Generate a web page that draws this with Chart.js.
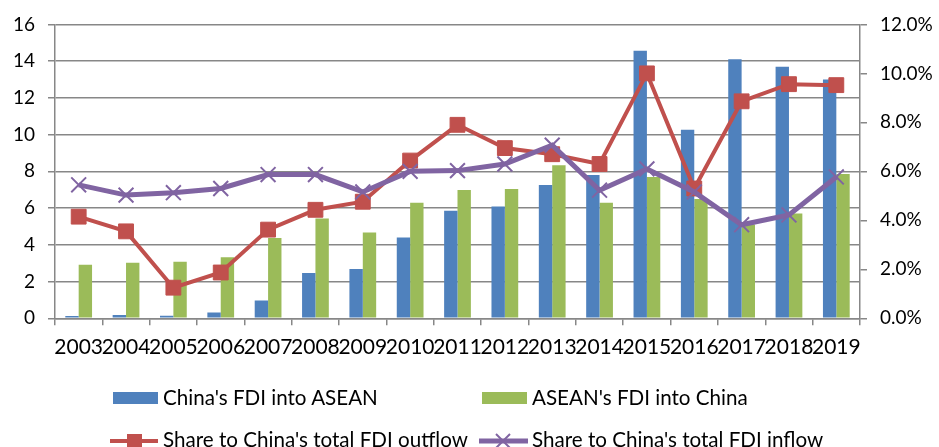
<!DOCTYPE html>
<html>
<head>
<meta charset="utf-8">
<script src="https://cdn.jsdelivr.net/npm/chart.js@4"></script>
<style>
  html,body{margin:0;padding:0;background:#fff;}
  #wrap{position:relative;width:939px;height:447px;overflow:hidden;}
  canvas{position:absolute;left:0;top:0;}
  .lg{position:absolute;font-family:Lato,"Open Sans",sans-serif;font-size:20.6px;line-height:1;color:#000;white-space:nowrap;}
  .box{position:absolute;}
</style>
</head>
<body>
<div id="wrap">
  <canvas id="c" width="939" height="447"></canvas>
  <div class="box" style="left:113px;top:392px;width:45px;height:12px;background:#4F81BD;"></div>
  <div class="lg" style="left:163px;top:386.8px;">China's FDI into ASEAN</div>
  <div class="box" style="left:482px;top:392px;width:45px;height:12px;background:#9BBB59;"></div>
  <div class="lg" style="left:532px;top:386.8px;">ASEAN's FDI into China</div>
  <svg style="position:absolute;left:108px;top:432px;" width="54" height="20">
    <line x1="2" y1="9" x2="50" y2="9" stroke="#C0504D" stroke-width="4"/>
    <rect x="19" y="2" width="15" height="15" fill="#C0504D"/>
  </svg>
  <div class="lg" style="left:163px;top:428.8px;">Share to China's total FDI outflow</div>
  <svg style="position:absolute;left:477px;top:432px;" width="54" height="20">
    <line x1="2" y1="9" x2="51" y2="9" stroke="#8064A2" stroke-width="5"/>
    <line x1="19" y1="2" x2="33" y2="16" stroke="#8064A2" stroke-width="2"/>
    <line x1="33" y1="2" x2="19" y2="16" stroke="#8064A2" stroke-width="2"/>
  </svg>
  <div class="lg" style="left:532px;top:428.8px;">Share to China's total FDI inflow</div>
</div>
<script>
const years = ['2003','2004','2005','2006','2007','2008','2009','2010','2011','2012','2013','2014','2015','2016','2017','2018','2019'];
const chinaFdiIntoAsean = [0.12,0.18,0.14,0.32,0.97,2.47,2.69,4.40,5.86,6.08,7.26,7.80,14.57,10.27,14.10,13.70,13.00];
const aseanFdiIntoChina = [2.92,3.02,3.08,3.33,4.37,5.43,4.67,6.29,6.99,7.04,8.33,6.29,7.69,6.50,5.10,5.70,7.86];
const shareOutflowPct = [4.15,3.55,1.25,1.87,3.62,4.43,4.76,6.44,7.90,6.95,6.70,6.30,10.00,5.30,8.86,9.56,9.52];
const shareInflowPct = [5.45,5.03,5.13,5.30,5.87,5.87,5.16,6.00,6.03,6.30,7.07,5.23,6.10,5.16,3.82,4.22,5.77];

const gridColor = '#878787';
const tickFont = {family:'Lato, "Open Sans", sans-serif', size:19};

new Chart(document.getElementById('c'), {
  type: 'bar',
  data: {
    labels: years,
    datasets: [
      {label:"China's FDI into ASEAN", data:chinaFdiIntoAsean, backgroundColor:'#4F81BD', yAxisID:'y', order:3, categoryPercentage:0.565, barPercentage:1.0},
      {label:"ASEAN's FDI into China", data:aseanFdiIntoChina, backgroundColor:'#9BBB59', yAxisID:'y', order:4, categoryPercentage:0.565, barPercentage:1.0},
      {type:'line', label:"Share to China's total FDI outflow", data:shareOutflowPct, yAxisID:'y1', order:2,
       borderColor:'#C0504D', borderWidth:4, tension:0, pointStyle:'rect', pointRadius:10.5, pointBorderWidth:1,
       pointBackgroundColor:'#C0504D', pointBorderColor:'#C0504D', fill:false},
      {type:'line', label:"Share to China's total FDI inflow", data:shareInflowPct, yAxisID:'y1', order:1,
       borderColor:'#8064A2', borderWidth:5, tension:0, pointStyle:'crossRot', pointRadius:10.5, pointBorderWidth:2,
       pointBackgroundColor:'#8064A2', pointBorderColor:'#8064A2', fill:false}
    ]
  },
  options: {
    responsive:false,
    animation:false,
    devicePixelRatio:1,
    layout:{padding:{top:20.7, bottom:88.7, left:0, right:0}},
    plugins:{legend:{display:false}, tooltip:{enabled:false}},
    scales:{
      x:{
        offset:true,
        grid:{display:true, drawOnChartArea:false, drawTicks:true, tickLength:7, color:gridColor, lineWidth:1.5, offset:true},
        border:{display:true, color:gridColor, width:1.5},
        ticks:{color:'#000', font:{family:'Lato, "Open Sans", sans-serif', size:21}, autoSkip:false, maxRotation:0, minRotation:0, padding:9},
        afterFit(s){ s.height = 40; }
      },
      y:{
        position:'left', min:0, max:16,
        grid:{color:gridColor, lineWidth:1.5, drawTicks:true, tickLength:7},
        border:{display:true, color:gridColor, width:1.5},
        ticks:{stepSize:2, color:'#000', font:tickFont, padding:13},
        afterFit(s){ s.width = 55; }
      },
      y1:{
        position:'right', min:0, max:12,
        grid:{drawOnChartArea:false, color:gridColor, lineWidth:1.5, drawTicks:true, tickLength:7},
        border:{display:true, color:gridColor, width:1.5},
        ticks:{stepSize:2, color:'#000', font:tickFont, padding:13, callback:(v)=>Number(v).toFixed(1)+'%'},
        afterFit(s){ s.width = 79; }
      }
    }
  }
});
</script>
</body>
</html>
